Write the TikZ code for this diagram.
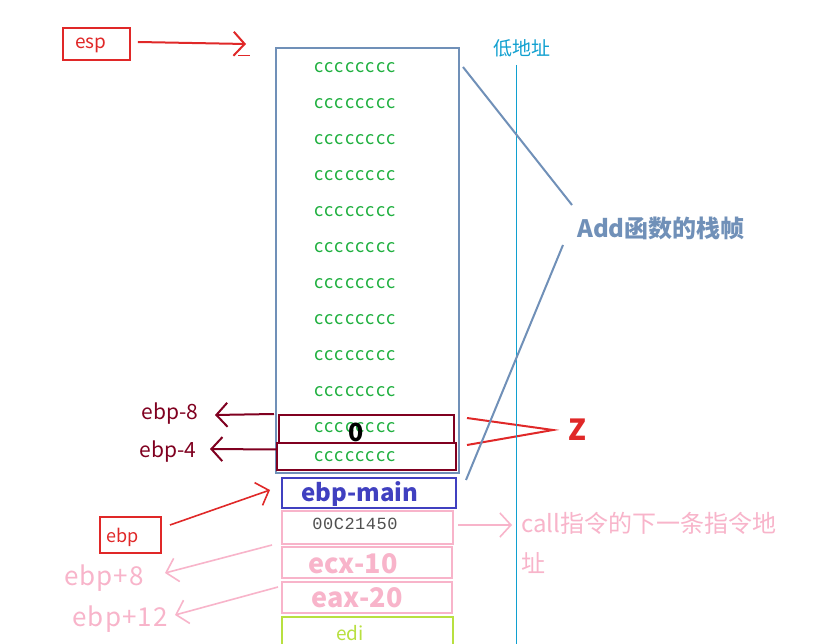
\documentclass[tikz,border=0pt]{standalone}
\usepackage{fontspec}
\setmainfont{Noto Sans CJK SC}
\newfontfamily\monof{Liberation Mono}
\usetikzlibrary{arrows.meta}
\definecolor{steel}{HTML}{7090B8}
\definecolor{cgreen}{HTML}{20B040}
\definecolor{maroon}{HTML}{800020}
\definecolor{rred}{HTML}{E02828}
\definecolor{cyanl}{HTML}{10A0D0}
\definecolor{bblue}{HTML}{4040C0}
\definecolor{pinkl}{HTML}{F8B4CA}
\definecolor{ygreen}{HTML}{B8E040}
\definecolor{mgray}{HTML}{505050}
\begin{document}
\begin{tikzpicture}[x=1pt,y=-1pt,
  box/.style={draw,line width=2pt,inner sep=0pt},
  crow/.style={text=cgreen,font=\fontsize{18}{18}\selectfont\addfontfeature{LetterSpace=9}},
  barb/.style={-{Straight Barb[length=11pt,width=24pt]},line width=1.6pt},
  lbl/.style={inner sep=0pt}]
\useasboundingbox[fill=white] (0,0) rectangle (828,644);
% esp
\node[box,draw=rred,line width=1.6pt,minimum width=67pt,minimum height=32pt] (esp) at (96.5,44) {};
\node[lbl,text=rred,font=\fontsize{19}{19}\selectfont] (esptxt) at (91,45) {esp};
\coordinate (esptip) at (246,44);
\draw[barb,rred,line width=2pt] (esp.east) ++(7,-2) coordinate (espst) -- (esptip);
\draw[rred,line width=1pt] (238,56) -- (250,56);
% main frame
\node[box,draw=steel,minimum width=183pt,minimum height=425pt] (frame) at (367.5,260.5) {};
\foreach \i in {1,...,12}{
  \node[crow,lbl] (c\i) at (355,{68+36*(\i-1)-(\i==12?7:0)}) {cccccccc};
}
% locals
\node[box,draw=maroon,minimum width=175pt,minimum height=28pt] (box8) at (366.5,429) {};
\node[box,draw=maroon,minimum width=179pt,minimum height=27pt] (box4) at (366.5,456.5) {};
\node[lbl,font=\fontsize{25}{25}\selectfont\bfseries] (zero) at (356,432) {0};
\node[lbl,text=maroon,font=\fontsize{21}{21}\selectfont] (l8) at (170,414) {ebp-8};
\node[lbl,text=maroon,font=\fontsize{21}{21}\selectfont] (l4) at (168,452) {ebp-4};
\draw[barb,maroon,line width=2pt] (box8.north west) ++(-4,0) coordinate (a8) -- (215,415) coordinate (t8);
\draw[barb,maroon,line width=2pt] (box4.west) ++(0,-7) coordinate (a4) -- (210,449) coordinate (t4);
% Z
\coordinate (z1) at (467,418);
\coordinate (z2) at (553,430);
\coordinate (z3) at (467,445);
\draw[rred,line width=2pt] (z1) -- (z2) -- (z3);
\node[lbl,text=rred,font=\fontsize{29}{29}\selectfont\bfseries] (ztxt) at (577,430) {Z};
% low address line
\node[lbl,text=cyanl,font=\fontsize{19}{19}\selectfont] (low) at (522,48) {低地址};
\coordinate (lowb) at (516,644);
\draw[cyanl,line width=1pt] (516,65) coordinate (lowt) -- (lowb);
% Add frame label
\node[lbl,text=steel,font=\fontsize{24}{24}\selectfont\bfseries] (add) at (661,228) {Add函数的栈帧};
\draw[steel,line width=2pt] (463,67) coordinate (s1) -- (572,205) coordinate (s2);
\draw[steel,line width=2pt] (563,245) coordinate (s3) -- (466,480) coordinate (s4);
% ebp-main
\node[box,draw=bblue,minimum width=174pt,minimum height=30pt] (ebpm) at (369,493) {};
\node[lbl,text=bblue,font=\fontsize{24}{24}\selectfont\bfseries] (ebpmt) at (360,494) {ebp-main};
% return address
\node[box,draw=pinkl,minimum width=171pt,minimum height=33pt] (ret) at (367.5,527.5) {};
\node[lbl,text=mgray,font=\fontsize{17}{17}\monof\addfontfeature{LetterSpace=3}] (rett) at (355,524) {00C21450};
\node[box,draw=pinkl,minimum width=170pt,minimum height=31pt] (ecx) at (367,562.5) {};
\node[lbl,text=pinkl,font=\fontsize{27}{27}\selectfont\bfseries] (ecxt) at (353,564) {ecx-10};
\node[box,draw=pinkl,minimum width=170pt,minimum height=31pt] (eax) at (367,597.5) {};
\node[lbl,text=pinkl,font=\fontsize{27}{27}\selectfont\bfseries] (eaxt) at (357,598) {eax-20};
\node[box,draw=ygreen,minimum width=171pt,minimum height=40pt] (edi) at (367.5,637) {};
\node[lbl,text=ygreen,font=\fontsize{19}{19}\selectfont] (edit) at (350,633) {edi};
% ebp box
\node[box,draw=rred,line width=1.6pt,minimum width=61pt,minimum height=36pt] (ebp) at (130.5,535) {};
\node[lbl,text=rred,font=\fontsize{18}{18}\selectfont] (ebpt) at (123,537) {ebp};
\draw[barb,rred,line width=1.6pt] (170,525) coordinate (e1) -- (270,490) coordinate (e2);
% call label
\draw[barb,pinkl,line width=1.6pt] (458,525) coordinate (r1) -- (512,525) coordinate (r2);
\node[lbl,text=pinkl,font=\fontsize{24}{24}\selectfont,anchor=west] (callt) at (521,523) {call指令的下一条指令地};
\node[lbl,text=pinkl,font=\fontsize{24}{24}\selectfont,anchor=west] (callt2) at (521,563) {址};
% ebp+8 / ebp+12
\node[lbl,text=pinkl,font=\fontsize{26}{26}\selectfont\addfontfeature{LetterSpace=4}] (p8) at (104,578) {ebp+8};
\node[lbl,text=pinkl,font=\fontsize{26}{26}\selectfont\addfontfeature{LetterSpace=4}] (p12) at (120,619) {ebp+12};
\draw[barb,pinkl,line width=1.6pt] (272,545) coordinate (q1) -- (165,573) coordinate (q2);
\draw[barb,pinkl,line width=1.6pt] (278,587) coordinate (q3) -- (175,615) coordinate (q4);
\end{tikzpicture}
\end{document}
